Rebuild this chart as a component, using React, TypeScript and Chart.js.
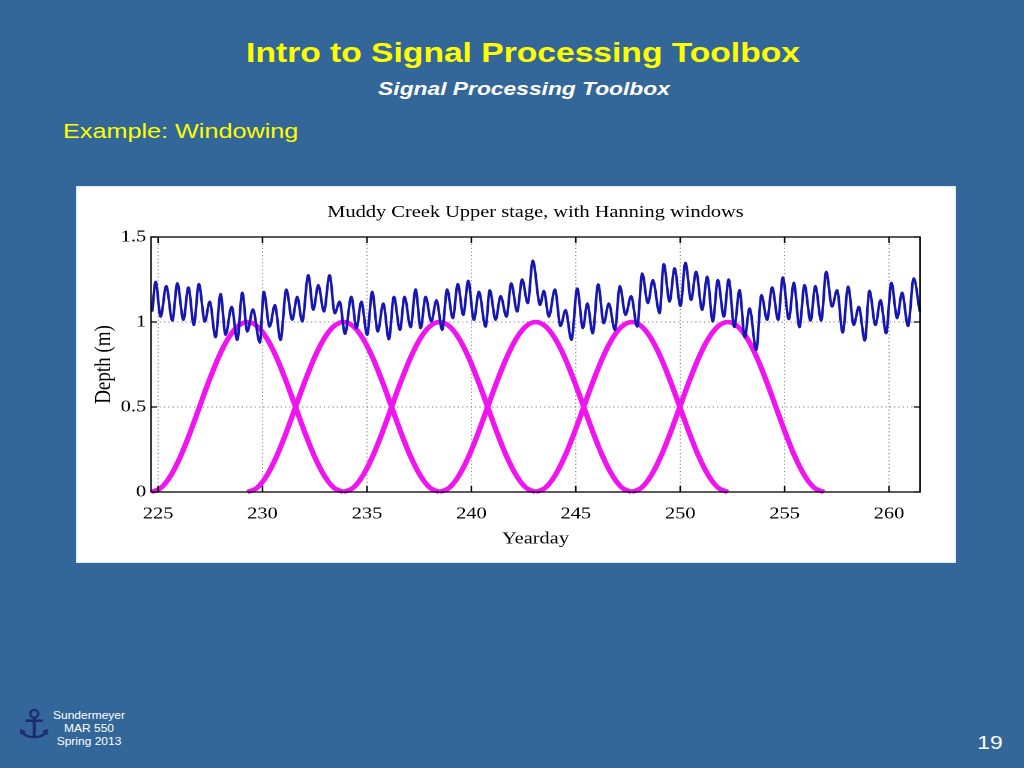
import React, { useEffect, useRef } from "react";
import { Chart, registerables } from "chart.js";

Chart.register(...registerables);

// ---------- data ----------
const yeardays = [
  224.72, 224.88, 225.12, 225.39, 225.68, 225.92, 226.21, 226.45, 226.71, 226.95,
  227.24, 227.47, 227.75, 227.99, 228.23, 228.52, 228.79, 229.03, 229.27, 229.54,
  229.87, 230.06, 230.34, 230.59, 230.86, 231.14, 231.42, 231.66, 231.9, 232.19,
  232.43, 232.67, 232.94, 233.21, 233.46, 233.69, 233.95, 234.25, 234.5, 234.73,
  235.01, 235.25, 235.52, 235.78, 236.05, 236.29, 236.58, 236.8, 237.09, 237.33,
  237.57, 237.81, 238.08, 238.33, 238.6, 238.84, 239.11, 239.35, 239.61, 239.85,
  240.12, 240.36, 240.68, 240.88, 241.16, 241.4, 241.68, 241.91, 242.19, 242.43,
  242.7, 242.94, 243.29, 243.47, 243.71, 244.0, 244.27, 244.51, 244.79, 245.07,
  245.34, 245.55, 245.81, 246.07, 246.34, 246.58, 246.87, 247.11, 247.38, 247.65,
  247.94, 248.18, 248.45, 248.69, 249.01, 249.21, 249.49, 249.73, 250.01, 250.25,
  250.52, 250.76, 251.05, 251.29, 251.56, 251.8, 252.09, 252.32, 252.59, 252.84,
  253.09, 253.32, 253.64, 253.89, 254.16, 254.4, 254.69, 254.91, 255.2, 255.44,
  255.71, 255.95, 256.24, 256.47, 256.75, 256.99, 257.27, 257.51, 257.78, 258.04,
  258.31, 258.55, 258.84, 259.06, 259.35, 259.59, 259.86, 260.11, 260.39, 260.62,
  260.91, 261.18, 261.47,
];

const depth = [
  1.061, 1.237, 1.031, 1.212, 1.008, 1.228, 1.012, 1.204, 0.982, 1.224,
  1.002, 1.12, 0.91, 1.165, 0.924, 1.09, 0.894, 1.173, 0.943, 1.075,
  0.878, 1.178, 0.972, 1.1, 0.894, 1.192, 1.012, 1.149, 1.002, 1.276,
  1.071, 1.218, 1.061, 1.276, 1.051, 1.12, 0.93, 1.149, 0.963, 1.12,
  0.924, 1.178, 0.943, 1.11, 0.898, 1.149, 0.953, 1.149, 0.969, 1.192,
  0.963, 1.149, 1.002, 1.129, 0.953, 1.192, 1.022, 1.224, 1.041, 1.243,
  1.012, 1.178, 0.972, 1.188, 1.012, 1.153, 1.031, 1.228, 1.061, 1.251,
  1.11, 1.361, 1.1, 1.184, 1.031, 1.192, 0.976, 1.071, 0.894, 1.198,
  0.963, 1.11, 0.933, 1.222, 0.992, 1.11, 0.953, 1.212, 1.041, 1.153,
  0.972, 1.286, 1.11, 1.247, 1.051, 1.341, 1.12, 1.316, 1.094, 1.349,
  1.129, 1.296, 1.071, 1.267, 1.002, 1.247, 1.031, 1.251, 0.97, 1.188,
  0.91, 1.08, 0.835, 1.159, 1.012, 1.204, 1.012, 1.263, 1.016, 1.231,
  0.969, 1.218, 1.008, 1.212, 1.008, 1.296, 1.09, 1.188, 0.937, 1.208,
  0.982, 1.09, 0.89, 1.184, 0.982, 1.129, 0.933, 1.231, 1.022, 1.173,
  0.976, 1.257, 1.061,
];

// Hanning windows: start yearday of each window, window span (days), window shape
const windowStarts = [224.68, 229.28, 233.88, 238.48, 243.08, 247.68];
const windowSpan = 9.2;
const hanningShape = [
  0, 0.0245, 0.0955, 0.2061, 0.3455, 0.5, 0.6545, 0.7939, 0.9045, 0.9755, 1,
  0.9755, 0.9045, 0.7939, 0.6545, 0.5, 0.3455, 0.2061, 0.0955, 0.0245, 0,
];

const xTicks = [225, 230, 235, 240, 245, 250, 255, 260];
const yTicks = [0, 0.5, 1, 1.5];
const xMin = 224.66;
const xMax = 261.48;

const chartTitle = "Muddy Creek Upper stage, with Hanning windows";
const xLabel = "Yearday";
const yLabel = "Depth (m)";

const SERIF = '"Liberation Serif", "Times New Roman", serif';

// ---------- MATLAB-like box, grid and inward ticks ----------
const matlabAxes = {
  id: "matlabAxes",
  beforeDatasetsDraw(chart: any) {
    const { ctx, chartArea: a, scales } = chart;
    const x = scales.x;
    const y = scales.y;
    ctx.save();
    ctx.strokeStyle = "rgba(0,0,0,0.55)";
    ctx.lineWidth = 0.9;
    ctx.setLineDash([1, 2.6]);
    xTicks.forEach((v) => {
      const px = x.getPixelForValue(v);
      ctx.beginPath();
      ctx.moveTo(px, a.top);
      ctx.lineTo(px, a.bottom);
      ctx.stroke();
    });
    yTicks.forEach((v) => {
      const py = y.getPixelForValue(v);
      if (py <= a.top + 1 || py >= a.bottom - 1) return;
      ctx.beginPath();
      ctx.moveTo(a.left, py);
      ctx.lineTo(a.right, py);
      ctx.stroke();
    });
    ctx.restore();
  },
  afterDatasetsDraw(chart: any) {
    const { ctx, chartArea: a, scales } = chart;
    const x = scales.x;
    const y = scales.y;
    ctx.save();
    ctx.strokeStyle = "#000";
    ctx.lineWidth = 1.3;
    ctx.setLineDash([]);
    ctx.strokeRect(a.left, a.top, a.right - a.left, a.bottom - a.top);
    const tl = 6;
    const tlx = 5;
    ctx.beginPath();
    xTicks.forEach((v) => {
      const px = x.getPixelForValue(v);
      ctx.moveTo(px, a.bottom);
      ctx.lineTo(px, a.bottom - tl);
      ctx.moveTo(px, a.top);
      ctx.lineTo(px, a.top + tl);
    });
    yTicks.forEach((v) => {
      const py = y.getPixelForValue(v);
      ctx.moveTo(a.left, py);
      ctx.lineTo(a.left + tlx, py);
      ctx.moveTo(a.right, py);
      ctx.lineTo(a.right - tlx, py);
    });
    ctx.stroke();
    ctx.restore();
  },
};

function buildConfig(): any {
  const signal = yeardays.map((t, i) => ({ x: t, y: depth[i] }));
  const windows = windowStarts.map((s) => ({
    label: "Hanning window",
    data: hanningShape.map((w, k) => ({
      x: s + (k * windowSpan) / (hanningShape.length - 1),
      y: w,
    })),
    borderColor: "#f014f0",
    borderWidth: 4.5,
    pointRadius: 0,
    cubicInterpolationMode: "monotone",
    fill: false,
    clip: 6,
  }));

  return {
    type: "line",
    data: {
      datasets: [
        {
          label: "Stage",
          data: signal,
          borderColor: "#1616b0",
          borderWidth: 2.2,
          pointRadius: 0,
          cubicInterpolationMode: "monotone",
          fill: false,
          clip: 4,
        },
        ...windows,
      ],
    },
    options: {
      responsive: false,
      animation: false,
      devicePixelRatio: 2,
      layout: { padding: { left: 0, right: 29.7, top: 0, bottom: 0 } },
      plugins: {
        legend: { display: false },
        tooltip: { enabled: false },
        title: {
          display: true,
          text: chartTitle,
          fullSize: false,
          color: "#000",
          font: { family: SERIF, size: 17, weight: "normal" },
          padding: { top: 16.5, bottom: 14.1 },
        },
      },
      scales: {
        x: {
          type: "linear",
          min: xMin,
          max: xMax,
          afterBuildTicks: (s: any) => {
            s.ticks = xTicks.map((v) => ({ value: v }));
          },
          afterFit: (s: any) => {
            s.height = 71;
          },
          grid: { display: false, drawTicks: false },
          border: { display: false },
          ticks: {
            autoSkip: false,
            maxRotation: 0,
            color: "#000",
            padding: 12,
            font: { family: SERIF, size: 17 },
            callback: (v: any) => String(v),
          },
          title: {
            display: true,
            text: xLabel,
            color: "#000",
            font: { family: SERIF, size: 17 },
            padding: { top: 0, bottom: 14 },
          },
        },
        y: {
          type: "linear",
          min: 0,
          max: 1.5,
          afterBuildTicks: (s: any) => {
            s.ticks = yTicks.map((v) => ({ value: v }));
          },
          afterFit: (s: any) => {
            s.width = 62.5;
          },
          grid: { display: false, drawTicks: false },
          border: { display: false },
          ticks: {
            color: "#000",
            padding: 4,
            font: { family: SERIF, size: 17 },
            callback: (v: any) => String(v),
          },
          title: {
            display: true,
            text: yLabel,
            color: "#000",
            font: { family: SERIF, size: 19 },
            padding: { top: 12.2, bottom: 0 },
          },
        },
      },
    },
    plugins: [matlabAxes],
  };
}

const stretch = "scaleX(1.2)";

export default function App() {
  const ref = useRef<HTMLCanvasElement | null>(null);

  useEffect(() => {
    if (!ref.current) return;
    const chart = new Chart(ref.current, buildConfig());
    return () => chart.destroy();
  }, []);

  const sans = '"Liberation Sans", Arial, Helvetica, sans-serif';

  return (
    <div
      style={{
        position: "fixed",
        left: 0,
        top: 0,
        width: 1024,
        height: 768,
        background: "#336699",
        overflow: "hidden",
        fontFamily: sans,
      }}
    >
      <div
        style={{
          position: "absolute",
          left: 523,
          top: 39,
          fontSize: 28,
          lineHeight: "28px",
          fontWeight: "bold",
          color: "#ffff00",
          whiteSpace: "nowrap",
          transform: "translateX(-50%) " + stretch,
        }}
      >
        Intro to Signal Processing Toolbox
      </div>
      <div
        style={{
          position: "absolute",
          left: 524,
          top: 79,
          fontSize: 19,
          lineHeight: "19px",
          fontWeight: "bold",
          fontStyle: "italic",
          color: "#ffffff",
          whiteSpace: "nowrap",
          transform: "translateX(-50%) " + stretch,
        }}
      >
        Signal Processing Toolbox
      </div>
      <div
        style={{
          position: "absolute",
          left: 63,
          top: 120,
          fontSize: 21,
          lineHeight: "21px",
          color: "#ffff00",
          whiteSpace: "nowrap",
          transform: stretch,
          transformOrigin: "0 0",
        }}
      >
        Example: Windowing
      </div>

      <div
        style={{
          position: "absolute",
          left: 76,
          top: 186,
          width: 880,
          height: 377,
          background: "#ffffff",
          boxShadow: "inset 0 0 0 1px #d6eef8",
          overflow: "hidden",
        }}
      >
        <div
          style={{
            position: "absolute",
            left: 0,
            top: 0,
            width: 733,
            height: 377,
            transform: stretch,
            transformOrigin: "0 0",
          }}
        >
          <canvas ref={ref} width={733} height={377} style={{ display: "block" }} />
        </div>
      </div>

      <div
        style={{
          position: "absolute",
          left: 16,
          top: 700,
          fontSize: 40,
          lineHeight: "48px",
          color: "#1d2c6e",
          fontFamily: '"DejaVu Sans", sans-serif',
        }}
      >
        ⚓
      </div>
      <div
        style={{
          position: "absolute",
          left: 89,
          top: 709,
          fontSize: 10,
          lineHeight: "13px",
          color: "#ffffff",
          textAlign: "center",
          whiteSpace: "nowrap",
          transform: "translateX(-50%) " + stretch,
        }}
      >
        <div>Sundermeyer</div>
        <div>MAR 550</div>
        <div>Spring 2013</div>
      </div>
      <div
        style={{
          position: "absolute",
          left: 990,
          top: 733,
          fontSize: 19,
          lineHeight: "19px",
          color: "#ffffff",
          whiteSpace: "nowrap",
          transform: "translateX(-50%) " + stretch,
        }}
      >
        19
      </div>
    </div>
  );
}
